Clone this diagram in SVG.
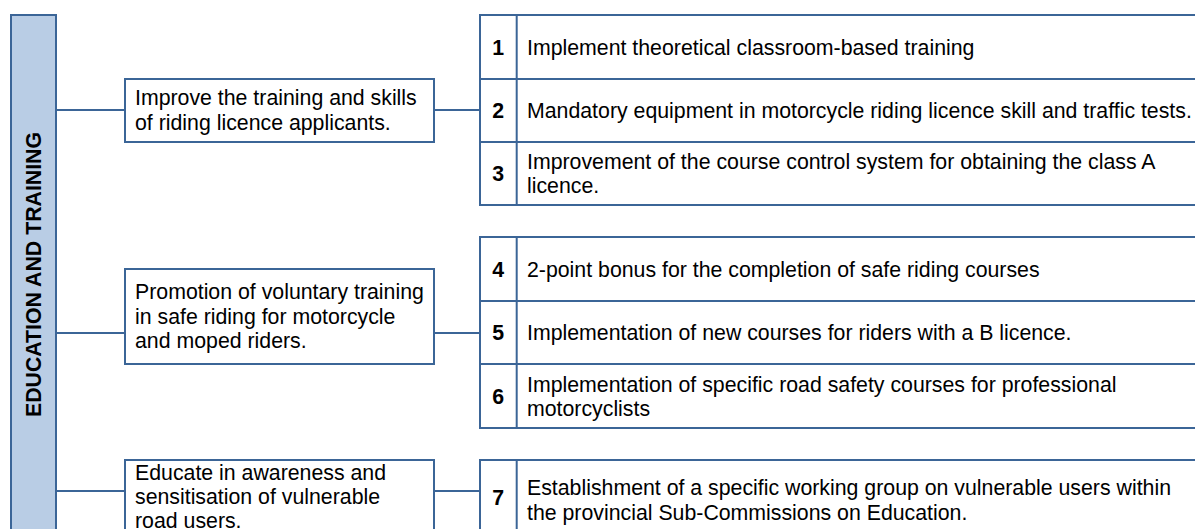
<svg xmlns="http://www.w3.org/2000/svg" width="1195" height="529" viewBox="0 0 1195 529">
  <style>
    .frame { fill: #ffffff; stroke: #3B6597; stroke-width: 2; }
    .bar { fill: #B9CDE5; stroke: #3B6597; stroke-width: 2; }
    .rule { stroke: #3B6597; stroke-width: 2; fill: none; }
    .txt { font-family: "Liberation Sans", Arial, sans-serif; font-size: 21.3px; fill: #000000; }
    .num { font-family: "Liberation Sans", Arial, sans-serif; font-size: 21.3px; font-weight: bold; fill: #000000; text-anchor: middle; }
    .title { font-family: "Liberation Sans", Arial, sans-serif; font-size: 21.3px; font-weight: bold; fill: #000000; text-anchor: middle; }
  </style>
  <rect width="1195" height="529" fill="#ffffff"/>

  <!-- links: category bar to objectives, objectives to measure tables -->
  <g id="connectors" class="rule">
    <line x1="56" y1="110" x2="125" y2="110"/>
    <line x1="56" y1="333" x2="125" y2="333"/>
    <line x1="56" y1="491" x2="125" y2="491"/>
    <line x1="434" y1="110" x2="480" y2="110"/>
    <line x1="434" y1="333" x2="480" y2="333"/>
    <line x1="434" y1="491" x2="480" y2="491"/>
  </g>

  <!-- category bar -->
  <g id="category">
    <rect class="bar" x="11" y="15" width="45" height="530"/>
    <text class="title" x="40.7" y="274.5" transform="rotate(-90 40.7 274.5)">EDUCATION AND TRAINING</text>
  </g>

  <!-- objectives -->
  <g id="objective-1">
    <rect class="frame" x="125" y="79" width="309" height="63"/>
    <text class="txt" x="135" y="105">Improve the training and skills</text>
    <text class="txt" x="135" y="129.5">of riding licence applicants.</text>
  </g>
  <g id="objective-2">
    <rect class="frame" x="125" y="269" width="309" height="95"/>
    <text class="txt" x="135" y="299">Promotion of voluntary training</text>
    <text class="txt" x="135" y="323.5">in safe riding for motorcycle</text>
    <text class="txt" x="135" y="348">and moped riders.</text>
  </g>
  <g id="objective-3">
    <rect class="frame" x="125" y="460" width="309" height="90"/>
    <text class="txt" x="135" y="479.5">Educate in awareness and</text>
    <text class="txt" x="135" y="504">sensitisation of vulnerable</text>
    <text class="txt" x="135" y="528">road users.</text>
  </g>

  <!-- measures 1-3 -->
  <g id="measures-1">
    <rect class="frame" x="480" y="15" width="730" height="190"/>
    <line class="rule" x1="516.7" y1="15" x2="516.7" y2="205"/>
    <line class="rule" x1="480" y1="79" x2="1210" y2="79"/>
    <line class="rule" x1="480" y1="142" x2="1210" y2="142"/>
    <text class="num" x="498.3" y="54.5">1</text>
    <text class="txt" x="527" y="54.5">Implement theoretical classroom-based training</text>
    <text class="num" x="498.3" y="118">2</text>
    <text class="txt" x="527" y="118">Mandatory equipment in motorcycle riding licence skill and traffic tests.</text>
    <text class="num" x="498.3" y="181">3</text>
    <text class="txt" x="527" y="168.5">Improvement of the course control system for obtaining the class A</text>
    <text class="txt" x="527" y="193">licence.</text>
  </g>

  <!-- measures 4-6 -->
  <g id="measures-2">
    <rect class="frame" x="480" y="237" width="730" height="191"/>
    <line class="rule" x1="516.7" y1="237" x2="516.7" y2="428"/>
    <line class="rule" x1="480" y1="301" x2="1210" y2="301"/>
    <line class="rule" x1="480" y1="364" x2="1210" y2="364"/>
    <text class="num" x="498.3" y="276.5">4</text>
    <text class="txt" x="527" y="276.5">2-point bonus for the completion of safe riding courses</text>
    <text class="num" x="498.3" y="340">5</text>
    <text class="txt" x="527" y="340">Implementation of new courses for riders with a B licence.</text>
    <text class="num" x="498.3" y="403.5">6</text>
    <text class="txt" x="527" y="391.5">Implementation of specific road safety courses for professional</text>
    <text class="txt" x="527" y="416">motorcyclists</text>
  </g>

  <!-- measure 7 -->
  <g id="measures-3">
    <rect class="frame" x="480" y="460" width="730" height="100"/>
    <line class="rule" x1="516.7" y1="460" x2="516.7" y2="560"/>
    <text class="num" x="498.3" y="504.5">7</text>
    <text class="txt" x="527" y="495">Establishment of a specific working group on vulnerable users within</text>
    <text class="txt" x="527" y="519.5">the provincial Sub-Commissions on Education.</text>
  </g>
</svg>
